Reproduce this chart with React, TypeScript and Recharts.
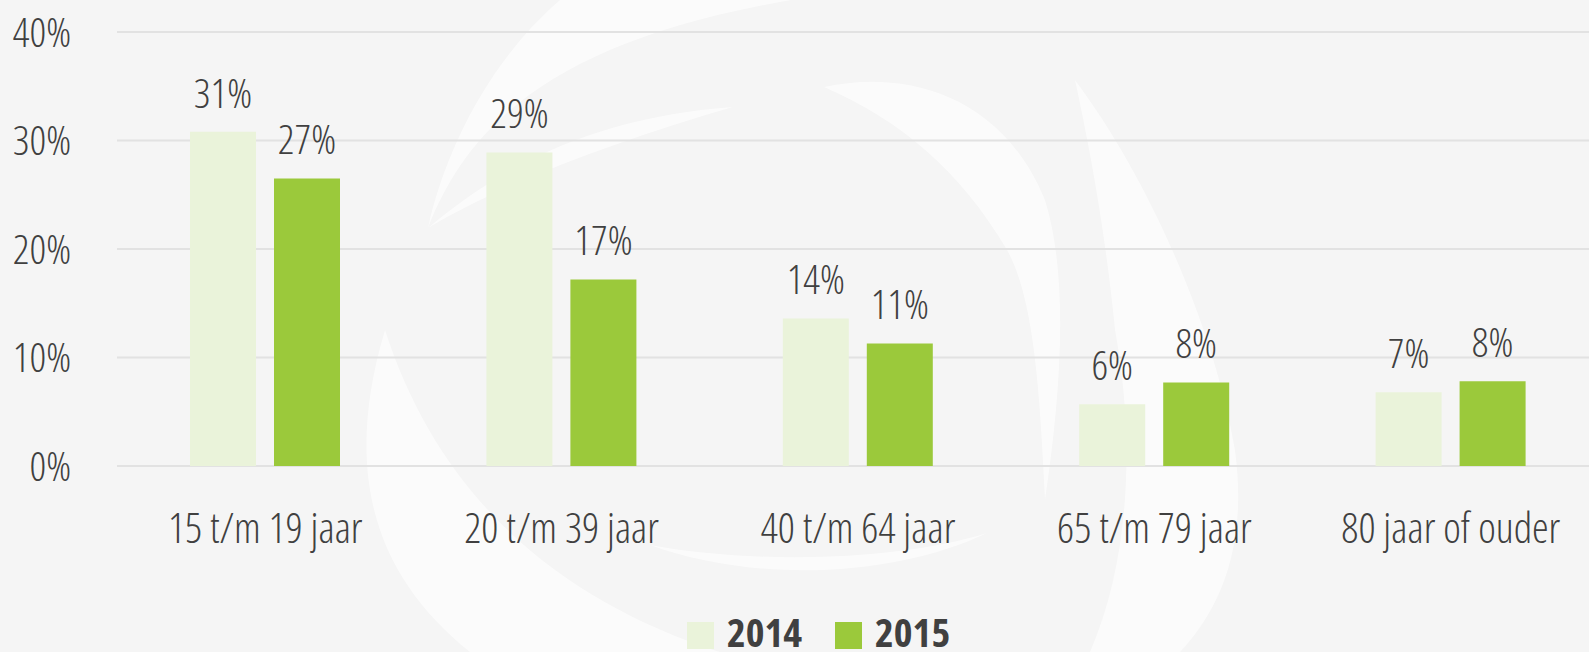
import React from 'react';
import { BarChart, Bar, XAxis, YAxis, CartesianGrid, LabelList, Legend } from 'recharts';

const categories = ['15 t/m 19 jaar', '20 t/m 39 jaar', '40 t/m 64 jaar', '65 t/m 79 jaar', '80 jaar of ouder'];
const values2014 = [30.8, 28.9, 13.6, 5.7, 6.8];
const values2015 = [26.5, 17.2, 11.3, 7.7, 7.8];
const seriesNames = ['2014', '2015'];
const yTicks = [0, 10, 20, 30, 40];

const data = categories.map((c, i) => ({ name: c, a: values2014[i], b: values2015[i] }));

const FONT = "'Open Sans', 'DejaVu Sans Condensed', sans-serif";
const TEXT = '#404040';
const C2014 = '#eaf3da';
const C2015 = '#9bc93b';

const renderValueLabel = (props: any) => {
  const { x, y, width, value } = props;
  return (
    <text
      x={Number(x) + Number(width) / 2}
      y={Number(y) - 24}
      textAnchor="middle"
      fill={TEXT}
      style={{ fontFamily: FONT, fontSize: 41, fontWeight: 300, fontStretch: '75%' }}
    >
      {Math.round(Number(value))}%
    </text>
  );
};

const renderLegend = () => (
  <div style={{ display: 'flex', alignItems: 'flex-start', fontFamily: FONT, fontStretch: '75%', fontWeight: 700, fontSize: 40, lineHeight: '40px', color: TEXT }}>
    {seriesNames.map((n, i) => (
      <div key={n} style={{ display: 'flex', alignItems: 'flex-start', marginRight: 33 }}>
        <div style={{ width: 27, height: 27, marginTop: 10, marginRight: 13, background: i === 0 ? C2014 : C2015 }} />
        <span>{n}</span>
      </div>
    ))}
  </div>
);

const Watermark = () => (
  <svg width={1589} height={652} style={{ position: 'absolute', left: 0, top: 0 }}>
    <g fill="#ffffff" opacity={0.6}>
      <path d="M 428 228 C 470 120 560 40 791 0 L 560 0 C 490 60 445 150 428 228 Z" />
      <path d="M 428 228 C 520 150 620 115 733 107 C 620 140 510 180 428 228 Z" />
      <path d="M 824 87 C 900 70 1000 90 1045 200 C 1070 280 1060 400 1045 500 C 1040 400 1035 300 1007 250 C 960 170 900 120 824 87 Z" />
      <path d="M 1075 80 C 1150 180 1215 330 1235 450 C 1250 560 1210 620 1180 652 L 1090 652 C 1130 560 1135 440 1115 330 C 1105 230 1090 150 1075 80 Z" />
      <path d="M 385 330 C 340 480 380 580 470 652 L 720 652 C 560 600 440 500 385 330 Z" />
      <path d="M 987 533 C 900 560 760 565 650 545 C 760 585 900 575 987 533 Z" />
    </g>
  </svg>
);

export default function App() {
  return (
    <div style={{ position: 'absolute', left: 0, top: 0, width: 1589, height: 652, overflow: 'hidden', background: '#f5f5f5' }}>
      <Watermark />
      <div style={{ position: 'absolute', left: 0, top: 0 }}>
        <BarChart
          width={1600}
          height={652}
          data={data}
          margin={{ top: 32, right: 1, left: 0, bottom: 86 }}
          barSize={66}
          barGap={18}
        >
          <CartesianGrid horizontal vertical={false} stroke="#e2e2e2" strokeWidth={2} />
          <XAxis
            dataKey="name"
            height={100}
            axisLine={false}
            tickLine={false}
            tickSize={0}
            tickMargin={47}
            interval={0}
            tick={{ fill: TEXT, fontSize: 42, fontFamily: FONT, fontWeight: 300, style: { fontStretch: '75%' } } as any}
          />
          <YAxis
            width={117}
            domain={[0, 40]}
            ticks={yTicks}
            axisLine={false}
            tickLine={false}
            tickSize={0}
            tickMargin={46}
            tickFormatter={(v: number) => `${v}%`}
            tick={{ fill: TEXT, fontSize: 41, fontFamily: FONT, fontWeight: 300, style: { fontStretch: '75%' } } as any}
          />
          <Legend
            layout="horizontal"
            verticalAlign="middle"
            align="center"
            content={renderLegend}
            wrapperStyle={{ top: 612, left: 687, width: 'auto', height: 40 }}
          />
          <Bar dataKey="a" name={seriesNames[0]} fill={C2014} isAnimationActive={false}>
            <LabelList dataKey="a" content={renderValueLabel} />
          </Bar>
          <Bar dataKey="b" name={seriesNames[1]} fill={C2015} isAnimationActive={false}>
            <LabelList dataKey="b" content={renderValueLabel} />
          </Bar>
        </BarChart>
      </div>
    </div>
  );
}
